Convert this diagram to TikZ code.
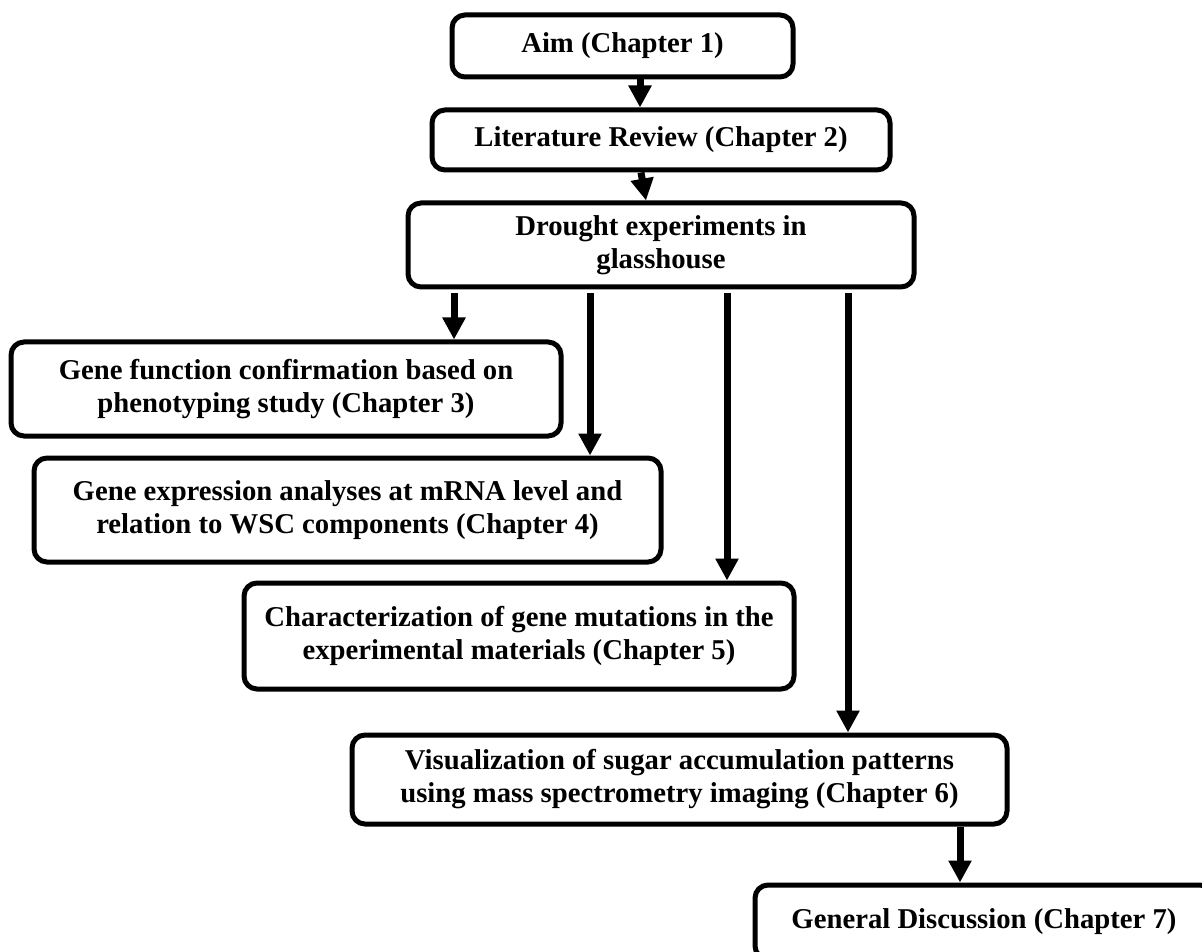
\documentclass[tikz,border=0pt]{standalone}
\usepackage{fontspec}
\setmainfont{Liberation Serif}
\usepackage{tikz}
\usetikzlibrary{arrows.meta}

\begin{document}
\begin{tikzpicture}[x=0.5pt, y=-0.5pt,
  chapbox/.style={draw, line width=2.5pt, rounded corners=6.5pt, align=center, inner sep=0pt,
    font=\fontsize{14.35}{16.5}\selectfont\bfseries},
  flow/.style={line width=3.5pt, -{Triangle[length=11pt, width=11pt]}}]
\useasboundingbox (0,0) rectangle (1202,951);
\clip (0,0) rectangle (1202,951);
\node[chapbox, minimum width=170.5pt, minimum height=31pt] (aim) at (622.5,46) {Aim (Chapter 1)};
\node[chapbox, minimum width=229pt, minimum height=30pt] (lit) at (661,140) {Literature Review (Chapter 2)};
\node[chapbox, minimum width=253pt, minimum height=42pt] (drought) at (661,245) {Drought experiments in\\glasshouse};
\node[chapbox, minimum width=275pt, minimum height=47pt] (gfun) at (286,389) {Gene function confirmation based on\\phenotyping study (Chapter 3)};
\node[chapbox, minimum width=313.5pt, minimum height=52pt] (gexp) at (347.5,510) {Gene expression analyses at mRNA level and\\relation to WSC components (Chapter 4)};
\node[chapbox, minimum width=275pt, minimum height=53pt] (gchar) at (519,636) {Characterization of gene mutations in the\\experimental materials (Chapter 5)};
\node[chapbox, minimum width=327.5pt, minimum height=44.5pt] (gvis) at (679.5,779.5) {Visualization of sugar accumulation patterns\\using mass spectrometry imaging (Chapter 6)};
\node[chapbox, minimum width=229pt, minimum height=37pt] (gdisc) at (984,922) {General Discussion (Chapter 7)};
\coordinate (c1) at (640,0);
\coordinate (c2a) at (641,0);
\coordinate (c2b) at (646,0);
\coordinate (d1) at (454,0);
\coordinate (d2) at (590,0);
\coordinate (d3) at (727,0);
\coordinate (d4) at (848,0);
\coordinate (e1) at (960,0);
\draw[flow] (aim.south -| c1) -- (lit.north -| c1);
\draw[flow] (lit.south -| c2a) -- (drought.north -| c2b);
\draw[flow] (drought.south -| d1) ++(0,4) -- (gfun.north -| d1);
\draw[flow] (drought.south -| d2) ++(0,4) -- (gexp.north -| d2);
\draw[flow] (drought.south -| d3) ++(0,4) -- (gchar.north -| d3);
\draw[flow] (drought.south -| d4) ++(0,4) -- (gvis.north -| d4);
\draw[flow] (gvis.south -| e1) -- (gdisc.north -| e1);
\end{tikzpicture}
\end{document}
